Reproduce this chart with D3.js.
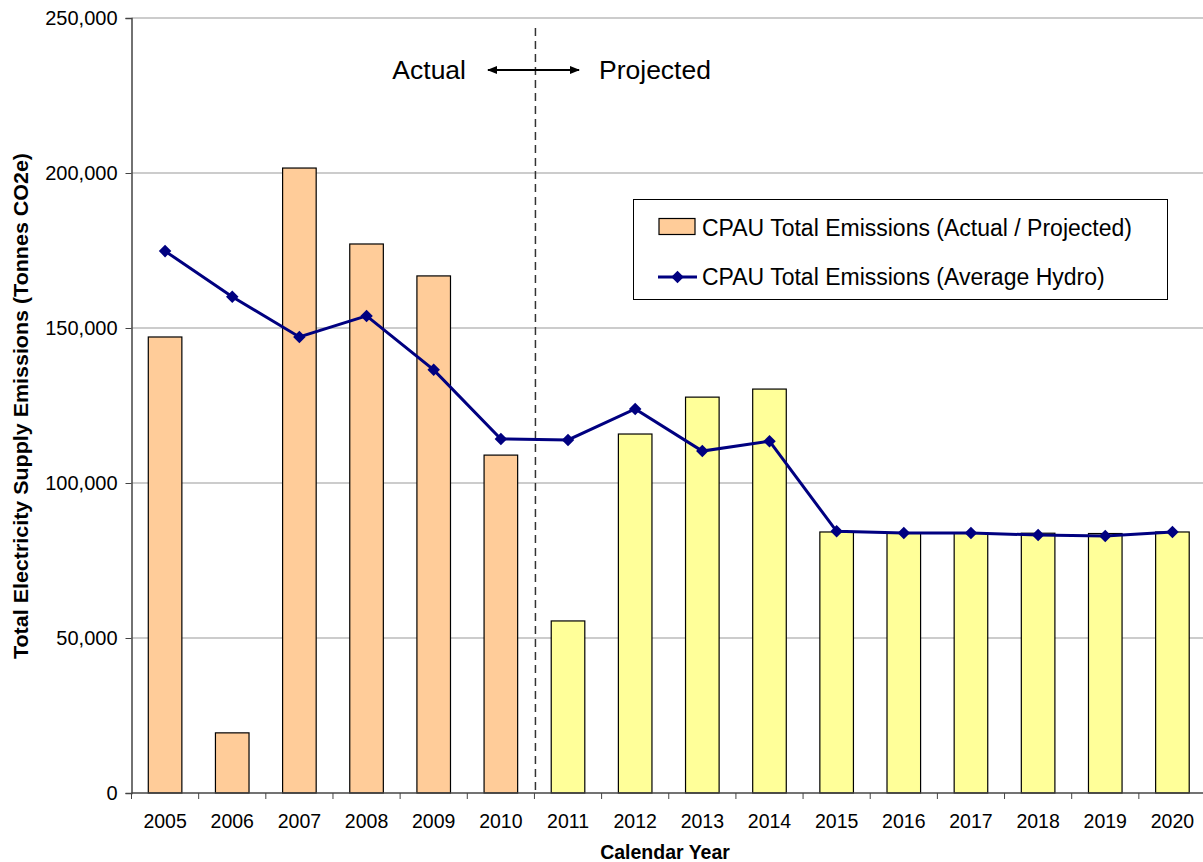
<!DOCTYPE html>
<html>
<head>
<meta charset="utf-8">
<script src="https://cdn.jsdelivr.net/npm/d3@7"></script>
<style>
  body { margin: 0; background: #fff; }
  svg { font-family: "Liberation Sans", Arial, sans-serif; }
</style>
</head>
<body>
<svg id="chart" width="1203" height="862"></svg>
<script>
var years = ["2005", "2006", "2007", "2008", "2009", "2010", "2011", "2012",
             "2013", "2014", "2015", "2016", "2017", "2018", "2019", "2020"];
var totalEmissions = [147100, 19400, 201600, 177100, 166800, 109000, 55500, 115800,
                      127700, 130300, 84200, 84000, 84000, 83800, 83700, 84200];
var averageHydro = [174800, 160100, 147100, 153900, 136500, 114200, 113900, 123900,
                    110300, 113500, 84400, 83900, 83900, 83200, 82900, 84200];
var yTicks = [0, 50000, 100000, 150000, 200000, 250000];
var lastActualYear = "2010";
var legendLabels = ["CPAU Total Emissions (Actual / Projected)", "CPAU Total Emissions (Average Hydro)"];

var svg = d3.select("#chart");
var padding = {top: 18, right: -3, bottom: 69, left: 131.5};
var chartArea = {
    width: 1203 - padding.left - padding.right,
    height: 862 - padding.top - padding.bottom
};

var xScale = d3.scaleBand()
    .domain(years)
    .range([0, chartArea.width])
    .paddingInner(0.5)
    .paddingOuter(0.25);

var yScale = d3.scaleLinear()
    .domain([0, 250000])
    .range([chartArea.height, 0]);

var g = svg.append("g")
    .attr("transform", "translate(" + padding.left + "," + padding.top + ")");

// gridlines
g.selectAll("line.grid")
    .data(yTicks.slice(1))
    .enter()
    .append("line")
    .attr("class", "grid")
    .attr("x1", 0)
    .attr("x2", chartArea.width)
    .attr("y1", function (d) { return yScale(d); })
    .attr("y2", function (d) { return yScale(d); })
    .attr("stroke", "#999")
    .attr("stroke-width", 1);

// bars
var actualIndex = years.indexOf(lastActualYear);
g.selectAll("rect.bar")
    .data(totalEmissions)
    .enter()
    .append("rect")
    .attr("class", "bar")
    .attr("x", function (d, i) { return xScale(years[i]); })
    .attr("y", function (d) { return yScale(d); })
    .attr("width", xScale.bandwidth())
    .attr("height", function (d) { return chartArea.height - yScale(d); })
    .attr("fill", function (d, i) { return i <= actualIndex ? "#FFCC99" : "#FFFF99"; })
    .attr("stroke", "#000")
    .attr("stroke-width", 1.2);

// y axis
var yAxis = g.append("g")
    .call(d3.axisLeft(yScale).tickValues(yTicks).tickSize(6).tickPadding(8)
        .tickFormat(d3.format(",")));
yAxis.select(".domain").attr("stroke", "#444").attr("stroke-width", 1.5);
yAxis.selectAll(".tick line").attr("stroke", "#444");
yAxis.selectAll("text").attr("font-size", "20px").attr("fill", "#000")
    .attr("font-family", "Liberation Sans, Arial, sans-serif");

// x axis with ticks at band boundaries
var step = xScale.step();
var xAxisG = g.append("g")
    .attr("transform", "translate(0," + chartArea.height + ")");
xAxisG.append("line")
    .attr("x1", 0).attr("x2", chartArea.width)
    .attr("stroke", "#444").attr("stroke-width", 1.5);
xAxisG.selectAll("line.xtick")
    .data(d3.range(years.length + 1))
    .enter()
    .append("line")
    .attr("class", "xtick")
    .attr("x1", function (i) { return xScale(years[0]) - step * 0.25 + i * step; })
    .attr("x2", function (i) { return xScale(years[0]) - step * 0.25 + i * step; })
    .attr("y1", 0).attr("y2", 6)
    .attr("stroke", "#444");
xAxisG.selectAll("text")
    .data(years)
    .enter()
    .append("text")
    .attr("x", function (d) { return xScale(d) + xScale.bandwidth() / 2; })
    .attr("y", 35)
    .attr("text-anchor", "middle")
    .attr("font-size", "19.5px")
    .text(function (d) { return d; });

// dashed divider
var dividerX = xScale(lastActualYear) + xScale.bandwidth() + (step - xScale.bandwidth()) / 2 + 1;
g.append("line")
    .attr("x1", dividerX).attr("x2", dividerX)
    .attr("y1", 10).attr("y2", chartArea.height)
    .attr("stroke", "#333")
    .attr("stroke-width", 1.5)
    .attr("stroke-dasharray", "8,5");

// line series
var line = d3.line()
    .x(function (d, i) { return xScale(years[i]) + xScale.bandwidth() / 2; })
    .y(function (d) { return yScale(d); });

g.append("path")
    .datum(averageHydro)
    .attr("d", line)
    .attr("fill", "none")
    .attr("stroke", "#000080")
    .attr("stroke-width", 3);

var diamond = d3.symbol().type(d3.symbolDiamond2).size(100);
g.selectAll("path.marker")
    .data(averageHydro)
    .enter()
    .append("path")
    .attr("class", "marker")
    .attr("d", diamond)
    .attr("transform", function (d, i) {
        return "translate(" + (xScale(years[i]) + xScale.bandwidth() / 2) + "," + yScale(d) + ")";
    })
    .attr("fill", "#000080");

// Actual / Projected annotation
var defs = svg.append("defs");
defs.append("marker")
    .attr("id", "arrow")
    .attr("viewBox", "0 0 10 10")
    .attr("refX", 9).attr("refY", 5)
    .attr("markerWidth", 5).attr("markerHeight", 5)
    .attr("orient", "auto-start-reverse")
    .append("path")
    .attr("d", "M0,1 L10,5 L0,9 Z")
    .attr("fill", "#000");

svg.append("line")
    .attr("x1", 488).attr("x2", 579)
    .attr("y1", 70).attr("y2", 70)
    .attr("stroke", "#000")
    .attr("stroke-width", 2)
    .attr("marker-start", "url(#arrow)")
    .attr("marker-end", "url(#arrow)");
svg.append("text")
    .attr("x", 466).attr("y", 79)
    .attr("text-anchor", "end")
    .attr("font-size", "26.5px")
    .text("Actual");
svg.append("text")
    .attr("x", 599).attr("y", 79)
    .attr("font-size", "26.5px")
    .text("Projected");

// legend
var legend = svg.append("g");
legend.append("rect")
    .attr("x", 633.5).attr("y", 199.5)
    .attr("width", 534).attr("height", 100)
    .attr("fill", "#fff")
    .attr("stroke", "#000")
    .attr("stroke-width", 1);
legend.append("rect")
    .attr("x", 659).attr("y", 218.5)
    .attr("width", 36).attr("height", 16)
    .attr("fill", "#FFCC99")
    .attr("stroke", "#000")
    .attr("stroke-width", 1.2);
legend.append("line")
    .attr("x1", 658).attr("x2", 697)
    .attr("y1", 277).attr("y2", 277)
    .attr("stroke", "#000080")
    .attr("stroke-width", 3);
legend.append("path")
    .attr("d", diamond)
    .attr("transform", "translate(677.5,277)")
    .attr("fill", "#000080");
legend.selectAll("text")
    .data(legendLabels)
    .enter()
    .append("text")
    .attr("x", 702)
    .attr("y", function (d, i) { return 236 + i * 49; })
    .attr("font-size", "23px")
    .text(function (d) { return d; });

// axis titles
svg.append("text")
    .attr("transform", "translate(28,406) rotate(-90)")
    .attr("text-anchor", "middle")
    .attr("font-size", "19.5px")
    .attr("font-weight", "bold")
    .attr("textLength", 506)
    .attr("lengthAdjust", "spacingAndGlyphs")
    .text("Total Electricity Supply Emissions (Tonnes CO2e)");
svg.append("text")
    .attr("x", 665).attr("y", 859)
    .attr("text-anchor", "middle")
    .attr("font-size", "19.5px")
    .attr("font-weight", "bold")
    .text("Calendar Year");
</script>
</body>
</html>
